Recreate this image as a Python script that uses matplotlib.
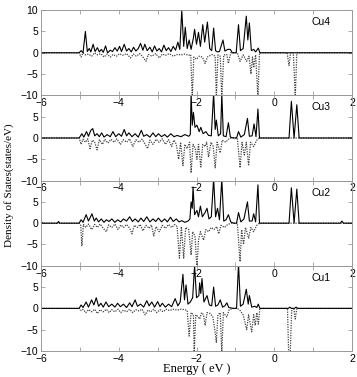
import matplotlib
matplotlib.use("Agg")
import matplotlib.pyplot as plt
from matplotlib.ticker import MultipleLocator

plt.rcParams['font.family'] = ['Liberation Sans', 'DejaVu Sans']

# spin-resolved DOS (energy eV, states/eV)
cu4_up = [(-6.0, 0), (-5.02, 0), (-4.97, 0.5), (-4.92, 0), (-4.86, 5.0), (-4.81, 0.3), (-4.76, 1.0),
          (-4.72, 0.2), (-4.66, 2.0), (-4.61, 0.3), (-4.55, 1.2), (-4.50, 0.2), (-4.45, 0.8), (-4.40, 0.1),
          (-4.34, 1.6), (-4.29, 0.0), (-4.22, 0.6), (-4.16, 0.3), (-4.10, 1.2), (-4.04, 0.4), (-3.98, 1.5),
          (-3.93, 0.3), (-3.86, 2.0), (-3.80, 0.4), (-3.74, 1.0), (-3.68, 0.2), (-3.62, 1.3), (-3.56, 0.4),
          (-3.50, 1.0), (-3.44, 2.2), (-3.38, 0.6), (-3.33, 2.0), (-3.27, 0.5), (-3.20, 1.3), (-3.14, 0.2),
          (-3.08, 1.6), (-3.02, 0.4), (-2.96, 1.0), (-2.90, 0.2), (-2.84, 1.8), (-2.78, 0.5), (-2.72, 1.2),
          (-2.66, 0.3), (-2.60, 1.5), (-2.54, 0.6), (-2.48, 2.5), (-2.43, 0.8), (-2.38, 10.0), (-2.33, 1.5),
          (-2.29, 6.0), (-2.24, 1.0), (-2.19, 3.0), (-2.14, 0.8), (-2.08, 3.5), (-2.05, 5.5), (-2.00, 2.0),
          (-1.95, 4.8), (-1.90, 1.5), (-1.84, 6.6), (-1.79, 2.5), (-1.72, 7.2), (-1.66, 1.0), (-1.61, 0.5),
          (-1.56, 5.8), (-1.51, 0.5), (-1.46, 0.2), (-1.41, 0.3), (-1.32, 3.0), (-1.27, 0.4), (-1.20, 0.8),
          (-1.13, 0.8), (-1.08, 0.0), (-0.98, 0.0), (-0.92, 6.6), (-0.87, 0.5), (-0.80, 1.0), (-0.72, 8.6),
          (-0.68, 3.0), (-0.64, 7.0), (-0.59, 0.5), (-0.53, 0.8), (-0.48, 0.2), (-0.41, 1.1), (-0.37, 0),
          (2.0, 0)]
cu4_dn = [(-6.0, 0), (-5.02, 0), (-4.97, -1.0), (-4.92, 0), (-4.86, -0.5), (-4.78, -0.3), (-4.70, -0.8),
          (-4.62, 0), (-4.55, -0.5), (-4.46, -0.2), (-4.38, -1.0), (-4.30, -0.3), (-4.22, -1.0), (-4.15, -0.4),
          (-4.06, -0.8), (-3.98, -0.2), (-3.90, -0.6), (-3.80, -0.2), (-3.70, -1.2), (-3.62, -0.3),
          (-3.55, -0.8), (-3.46, -0.2), (-3.38, -1.0), (-3.30, -2.0), (-3.24, -0.4), (-3.15, -0.8),
          (-3.05, -0.2), (-2.96, -1.2), (-2.88, -0.3), (-2.80, -0.6), (-2.70, -0.2), (-2.60, -0.8),
          (-2.50, -0.4), (-2.40, -0.5), (-2.30, -0.3), (-2.20, -0.6), (-2.15, -0.4), (-2.11, -10.5),
          (-2.07, -1.0), (-2.00, -1.5), (-1.93, -0.8), (-1.85, -1.0), (-1.78, -2.5), (-1.72, -1.0),
          (-1.60, -0.4), (-1.52, -0.8), (-1.49, -10.5), (-1.45, -0.5), (-1.39, -0.8), (-1.35, -10.5),
          (-1.30, -0.5), (-1.22, -0.4), (-1.18, -2.5), (-1.12, 0), (-0.95, 0), (-0.88, -2.0), (-0.80, -0.5),
          (-0.71, -2.0), (-0.65, -0.8), (-0.60, -5.0), (-0.56, -1.0), (-0.53, -3.5), (-0.48, -0.5),
          (-0.42, -10.5), (-0.38, 0), (0.33, 0), (0.38, -3.0), (0.42, 0), (0.49, 0), (0.54, -10.5),
          (0.58, 0), (2.0, 0)]

cu3_up = [(-6.0, 0), (-5.02, 0), (-4.95, 1.0), (-4.90, 0.2), (-4.83, 1.5), (-4.78, 0.4), (-4.72, 1.8),
          (-4.67, 2.2), (-4.62, 0.5), (-4.56, 1.0), (-4.50, 0.3), (-4.44, 1.2), (-4.38, 0.2), (-4.30, 0.8),
          (-4.22, 0.3), (-4.15, 1.5), (-4.08, 0.3), (-4.00, 1.0), (-3.93, 0.4), (-3.86, 2.0), (-3.80, 0.5),
          (-3.74, 1.2), (-3.66, 0.3), (-3.58, 1.0), (-3.50, 0.2), (-3.42, 1.8), (-3.36, 0.4), (-3.28, 0.8),
          (-3.20, 0.2), (-3.12, 1.2), (-3.05, 0.3), (-2.98, 1.0), (-2.90, 0.3), (-2.82, 0.8), (-2.75, 0.2),
          (-2.66, 1.0), (-2.58, 0.3), (-2.50, 0.6), (-2.40, 0.3), (-2.30, 0.8), (-2.20, 0.4), (-2.16, 0.8),
          (-2.14, 10.5), (-2.11, 3.0), (-2.08, 6.0), (-2.04, 2.5), (-1.99, 3.0), (-1.93, 1.5), (-1.89, 2.5),
          (-1.83, 1.0), (-1.76, 1.5), (-1.69, 0.6), (-1.62, 0.5), (-1.56, 10.5), (-1.52, 2.0), (-1.49, 4.2),
          (-1.44, 0.5), (-1.38, 1.0), (-1.35, 10.5), (-1.31, 0.5), (-1.24, 0.3), (-1.18, 3.6), (-1.13, 0.2),
          (-1.05, 0.0), (-0.97, 0.0), (-0.92, 1.5), (-0.86, 0.2), (-0.77, 0.8), (-0.69, 4.6), (-0.64, 0.4),
          (-0.57, 0.5), (-0.52, 3.3), (-0.47, 0.3), (-0.42, 6.8), (-0.38, 0), (0.38, 0), (0.44, 8.6),
          (0.51, 0), (0.58, 7.8), (0.64, 0), (2.0, 0)]
cu3_dn = [(-6.0, 0), (-5.02, 0), (-4.97, -1.5), (-4.92, -0.3), (-4.86, -1.0), (-4.80, -0.2), (-4.74, -2.5),
          (-4.68, -0.5), (-4.62, -1.0), (-4.56, -2.8), (-4.50, -0.4), (-4.42, -1.5), (-4.36, -0.3),
          (-4.28, -1.2), (-4.20, -0.3), (-4.12, -1.0), (-4.05, -0.2), (-3.96, -1.5), (-3.88, -0.4),
          (-3.80, -1.0), (-3.72, -0.2), (-3.64, -2.0), (-3.56, -0.4), (-3.48, -1.0), (-3.40, -0.3),
          (-3.32, -1.5), (-3.26, -2.5), (-3.20, -0.5), (-3.12, -1.5), (-3.04, -0.3), (-2.96, -1.0),
          (-2.88, -0.2), (-2.80, -1.5), (-2.72, -0.4), (-2.64, -2.0), (-2.58, -0.5), (-2.52, -1.5),
          (-2.46, -5.0), (-2.41, -1.0), (-2.35, -6.5), (-2.30, -1.5), (-2.24, -2.5), (-2.18, -1.0),
          (-2.14, -8.2), (-2.09, -1.5), (-2.03, -2.5), (-1.99, -5.0), (-1.95, -1.5), (-1.89, -6.8),
          (-1.84, -1.5), (-1.78, -2.0), (-1.74, -1.0), (-1.69, -4.5), (-1.63, -1.0), (-1.57, -2.0),
          (-1.52, -7.0), (-1.47, -1.0), (-1.39, -3.5), (-1.34, -0.5), (-1.25, -1.0), (-1.18, -0.3),
          (-1.10, 0), (-0.95, 0), (-0.88, -7.0), (-0.83, -1.0), (-0.77, -4.0), (-0.72, -1.0), (-0.66, -6.5),
          (-0.61, -1.0), (-0.53, -2.0), (-0.45, -0.5), (-0.38, 0), (2.0, 0)]

cu2_up = [(-6.0, 0), (-5.99, 0.3), (-5.96, 0), (-5.58, 0), (-5.55, 0.4), (-5.52, 0), (-5.02, 0),
          (-4.97, 0.8), (-4.92, 0.2), (-4.84, 2.0), (-4.78, 0.5), (-4.69, 2.2), (-4.63, 0.5), (-4.58, 1.2),
          (-4.52, 0.3), (-4.45, 1.0), (-4.38, 0.2), (-4.32, 0.8), (-4.25, 0.4), (-4.18, 1.0), (-4.10, 0.2),
          (-4.03, 0.8), (-3.95, 0.3), (-3.88, 1.0), (-3.80, 0.5), (-3.72, 1.5), (-3.65, 0.4), (-3.58, 1.0),
          (-3.50, 0.3), (-3.43, 1.2), (-3.36, 0.4), (-3.28, 1.5), (-3.20, 0.3), (-3.12, 1.0), (-3.05, 0.4),
          (-2.98, 1.2), (-2.90, 0.3), (-2.82, 1.0), (-2.75, 0.3), (-2.67, 1.4), (-2.60, 0.4), (-2.52, 1.0),
          (-2.45, 0.3), (-2.38, 0.6), (-2.30, 0.2), (-2.22, 0.5), (-2.17, 1.0), (-2.14, 5.0), (-2.11, 3.5),
          (-2.09, 8.5), (-2.05, 2.0), (-1.99, 3.0), (-1.95, 1.5), (-1.90, 4.0), (-1.85, 1.5), (-1.78, 2.5),
          (-1.73, 3.5), (-1.68, 1.0), (-1.62, 1.5), (-1.56, 10.5), (-1.51, 1.5), (-1.46, 3.5), (-1.41, 0.8),
          (-1.35, 10.5), (-1.30, 0.5), (-1.24, 0.8), (-1.18, 2.0), (-1.12, 0.3), (-1.05, 0.0), (-0.97, 0.0),
          (-0.92, 2.5), (-0.86, 0.3), (-0.78, 1.0), (-0.69, 5.0), (-0.64, 0.5), (-0.57, 0.5), (-0.53, 2.2),
          (-0.48, 0.3), (-0.42, 9.0), (-0.38, 0), (0.38, 0), (0.44, 8.3), (0.51, 0), (0.58, 8.0), (0.64, 0),
          (1.70, 0), (1.74, 0.5), (1.78, 0), (2.0, 0)]
cu2_dn = [(-6.0, 0), (-5.02, 0), (-4.98, -0.5), (-4.95, -5.3), (-4.91, -0.3), (-4.85, -1.0), (-4.78, -0.2),
          (-4.70, -1.5), (-4.62, -0.3), (-4.55, -1.0), (-4.48, -0.2), (-4.40, -1.2), (-4.32, -2.0),
          (-4.26, -0.4), (-4.18, -1.0), (-4.10, -0.2), (-4.02, -1.5), (-3.95, -0.4), (-3.88, -1.0),
          (-3.80, -0.3), (-3.72, -1.2), (-3.66, -2.5), (-3.60, -0.5), (-3.52, -1.0), (-3.45, -0.3),
          (-3.38, -1.8), (-3.30, -0.5), (-3.22, -1.2), (-3.16, -0.4), (-3.10, -3.0), (-3.04, -0.8),
          (-2.96, -2.0), (-2.88, -0.5), (-2.80, -1.2), (-2.72, -0.3), (-2.64, -1.0), (-2.56, -0.3),
          (-2.50, -0.8), (-2.44, -8.2), (-2.39, -0.8), (-2.33, -8.2), (-2.28, -1.0), (-2.20, -1.5),
          (-2.14, -7.5), (-2.10, -2.0), (-2.04, -3.0), (-1.99, -10.5), (-1.95, -4.0), (-1.90, -2.0),
          (-1.82, -4.0), (-1.76, -1.5), (-1.69, -2.0), (-1.62, -1.0), (-1.55, -1.5), (-1.48, -0.8),
          (-1.43, -2.5), (-1.37, -0.5), (-1.28, -1.0), (-1.20, -0.3), (-1.10, 0), (-0.95, 0), (-0.88, -9.0),
          (-0.84, -1.5), (-0.79, -5.0), (-0.74, -1.0), (-0.66, -3.5), (-0.60, -1.0), (-0.53, -2.0),
          (-0.45, -0.5), (-0.38, 0), (2.0, 0)]

cu1_up = [(-6.0, 0), (-5.02, 0), (-4.97, 0.8), (-4.92, 0.2), (-4.84, 1.5), (-4.78, 0.3), (-4.70, 2.0),
          (-4.64, 0.8), (-4.58, 2.5), (-4.52, 0.5), (-4.46, 1.2), (-4.40, 0.3), (-4.33, 1.5), (-4.26, 0.4),
          (-4.18, 1.0), (-4.10, 0.3), (-4.03, 1.2), (-3.96, 0.4), (-3.88, 1.0), (-3.80, 0.2), (-3.72, 1.3),
          (-3.66, 0.4), (-3.58, 2.0), (-3.52, 0.5), (-3.44, 1.0), (-3.36, 0.3), (-3.28, 1.8), (-3.22, 0.6),
          (-3.15, 1.5), (-3.08, 0.3), (-3.00, 1.6), (-2.94, 0.4), (-2.88, 1.2), (-2.80, 0.3), (-2.72, 1.0),
          (-2.64, 0.4), (-2.55, 2.3), (-2.48, 0.6), (-2.42, 1.5), (-2.35, 8.0), (-2.31, 2.0), (-2.27, 5.5),
          (-2.22, 1.0), (-2.16, 1.5), (-2.10, 2.5), (-2.05, 10.0), (-2.00, 2.5), (-1.94, 3.0), (-1.92, 6.0),
          (-1.89, 3.5), (-1.86, 7.0), (-1.81, 1.5), (-1.73, 3.0), (-1.67, 0.8), (-1.61, 0.6), (-1.56, 5.0),
          (-1.51, 0.5), (-1.45, 0.8), (-1.39, 2.0), (-1.33, 0.3), (-1.27, 0.6), (-1.22, 1.3), (-1.17, 0.2),
          (-1.05, 0), (-0.97, 0), (-0.92, 10.5), (-0.87, 0.5), (-0.80, 1.0), (-0.72, 4.5), (-0.67, 1.0),
          (-0.64, 3.0), (-0.58, 0.3), (-0.50, 0.5), (-0.45, 0.2), (-0.41, 1.0), (-0.37, 0), (0.36, 0),
          (0.40, 0.3), (0.44, 0), (0.52, 0), (0.56, 0.3), (0.60, 0), (2.0, 0)]
cu1_dn = [(-6.0, 0), (-5.02, 0), (-4.97, -0.5), (-4.92, -0.2), (-4.85, -1.0), (-4.78, -0.3), (-4.70, -0.8),
          (-4.62, -0.2), (-4.55, -1.2), (-4.48, -0.3), (-4.40, -0.8), (-4.32, -0.2), (-4.25, -1.0),
          (-4.18, -0.3), (-4.10, -0.8), (-4.02, -0.2), (-3.95, -1.0), (-3.88, -0.4), (-3.80, -0.8),
          (-3.72, -0.2), (-3.64, -1.0), (-3.56, -0.3), (-3.48, -0.6), (-3.40, -0.2), (-3.32, -1.5),
          (-3.25, -0.4), (-3.18, -0.8), (-3.10, -0.2), (-3.02, -1.0), (-2.94, -0.3), (-2.86, -0.8),
          (-2.78, -0.2), (-2.70, -0.5), (-2.60, -0.2), (-2.50, -0.4), (-2.40, -0.2), (-2.30, -0.3),
          (-2.24, -0.5), (-2.19, -6.5), (-2.14, -1.0), (-2.08, -1.5), (-2.06, -10.5), (-2.02, -1.5),
          (-1.96, -2.0), (-1.92, -2.5), (-1.87, -1.0), (-1.82, -1.5), (-1.78, -4.0), (-1.73, -1.0),
          (-1.65, -1.2), (-1.58, -2.0), (-1.53, -5.0), (-1.49, -8.0), (-1.45, -1.5), (-1.39, -1.0),
          (-1.35, -10.5), (-1.31, -1.0), (-1.22, -2.0), (-1.16, -0.3), (-1.05, 0), (-0.95, 0), (-0.88, -0.5),
          (-0.80, -1.5), (-0.71, -5.0), (-0.66, -1.5), (-0.58, -5.5), (-0.53, -1.5), (-0.49, -4.0),
          (-0.45, -1.0), (-0.41, -3.7), (-0.37, 0), (0.34, 0), (0.37, -10.5), (0.41, -10.5), (0.45, 0),
          (0.50, 0), (0.54, -2.5), (0.58, 0), (2.0, 0)]

panels = [("Cu4", cu4_up, cu4_dn), ("Cu3", cu3_up, cu3_dn),
          ("Cu2", cu2_up, cu2_dn), ("Cu1", cu1_up, cu1_dn)]
yticks = [-10, -5, 0, 5, 10]

fig, axes = plt.subplots(4, 1, figsize=(3.57, 3.77), dpi=100)
fig.subplots_adjust(left=0.115, right=0.986, bottom=0.069, top=0.973, hspace=0)

for i, (ax, (name, up, dn)) in enumerate(zip(axes, panels)):
    ax.patch.set_alpha(0)
    ex, ev = zip(*dn)
    ax.plot(ex, ev, color="#444444", linestyle=(0, (1, 1)), linewidth=0.9)
    ex, ev = zip(*up)
    ax.plot(ex, ev, color="black", linewidth=0.8)
    ax.set_xlim(-6, 2)
    ax.set_ylim(-10, 10)
    ax.xaxis.set_major_locator(MultipleLocator(2))
    ax.xaxis.set_minor_locator(MultipleLocator(1))
    labels = ["\u221210", "\u22125", "0", "5", "10" if i == 0 else ""]
    ax.set_yticks(yticks, labels)
    ax.tick_params(which="both", direction="in", top=True, right=True,
                   length=3, width=0.5, color="#888888", labelsize=7.5, pad=2)
    for sp in ax.spines.values():
        sp.set_color("#999999")
        sp.set_linewidth(0.7)
    ax.text(0.90, 0.86, name, transform=ax.transAxes, ha="center", va="center", fontsize=7.5)

fig.text(0.025, 0.51, "Density of States(states/eV)", rotation=90, ha="center", va="center",
         family=["Liberation Serif"], fontsize=8)
fig.text(0.55, 0.005, "Energy ( eV )", ha="center", va="bottom",
         family=["Liberation Serif"], fontsize=9)

fig.savefig("out.png", dpi=100)
